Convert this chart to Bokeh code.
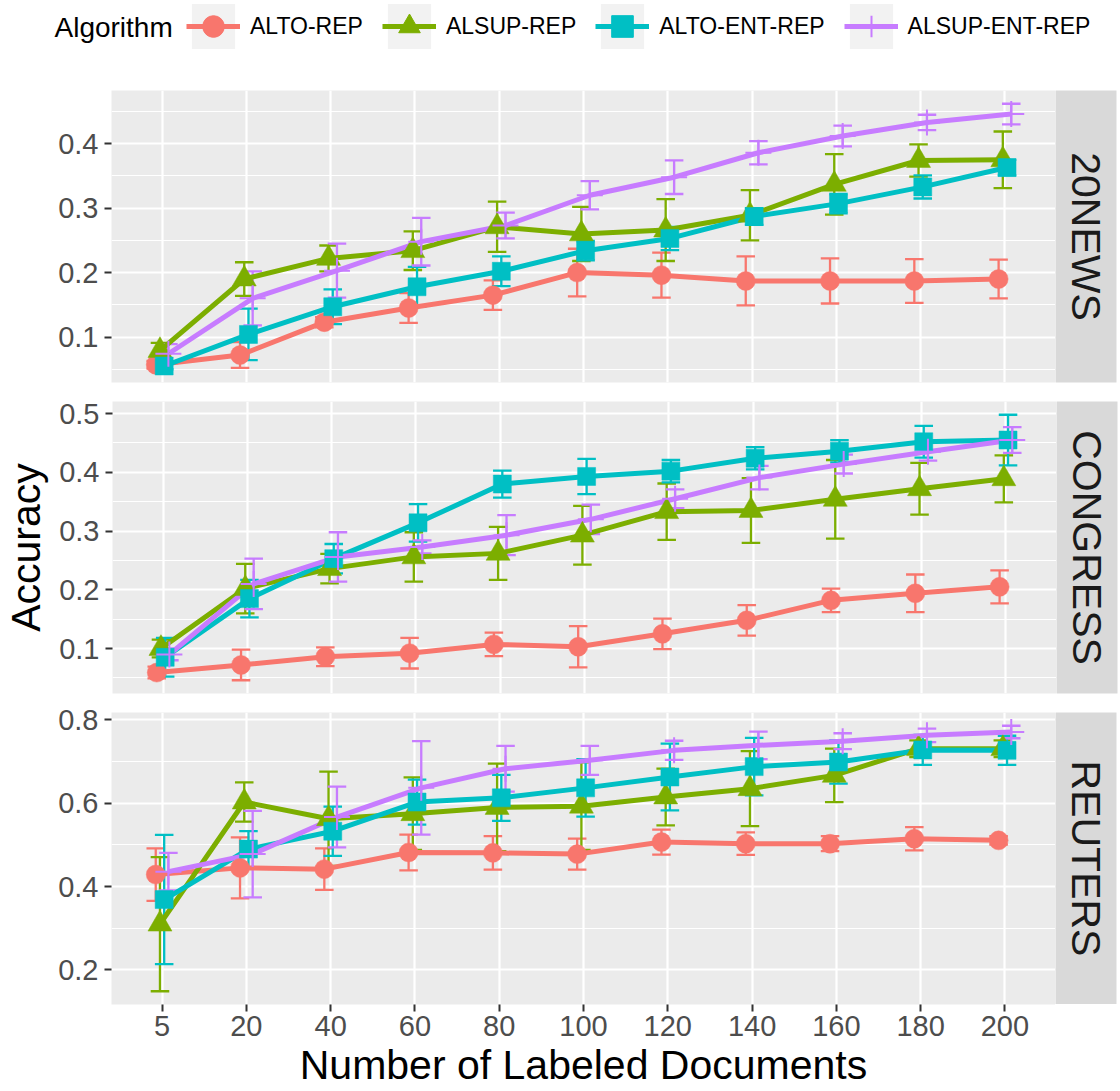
import numpy as np
from bokeh.plotting import figure
from bokeh.models import Range1d, FixedTicker, ColumnDataSource, Legend, LegendItem
from bokeh.layouts import column, row
from bokeh.embed import file_html
from bokeh.resources import INLINE
from bokeh.core.properties import value

# ---------------- data ----------------
categories = ["5", "20", "40", "60", "80", "100", "120", "140", "160", "180", "200"]
algorithms = ["ALTO-REP", "ALSUP-REP", "ALTO-ENT-REP", "ALSUP-ENT-REP"]
datasets = ["20NEWS", "CONGRESS", "REUTERS"]

# 20NEWS
news_alto_rep = [0.057, 0.072, 0.123, 0.145, 0.165, 0.200, 0.196, 0.187, 0.187, 0.187, 0.190]
news_alto_rep_err = [0.006, 0.020, 0.008, 0.023, 0.023, 0.037, 0.035, 0.038, 0.035, 0.034, 0.030]
news_alsup_rep = [0.079, 0.190, 0.222, 0.234, 0.271, 0.260, 0.266, 0.289, 0.337, 0.374, 0.375]
news_alsup_rep_err = [0.012, 0.026, 0.020, 0.030, 0.039, 0.042, 0.048, 0.039, 0.047, 0.025, 0.044]
news_alto_ent = [0.055, 0.104, 0.147, 0.178, 0.202, 0.234, 0.253, 0.287, 0.307, 0.333, 0.363]
news_alto_ent_err = [0.005, 0.040, 0.027, 0.031, 0.023, 0.015, 0.018, 0.013, 0.015, 0.018, 0.012]
news_alsup_ent = [0.074, 0.160, 0.203, 0.248, 0.273, 0.320, 0.348, 0.386, 0.412, 0.433, 0.446]
news_alsup_ent_err = [0.015, 0.042, 0.042, 0.037, 0.020, 0.022, 0.026, 0.018, 0.016, 0.012, 0.016]

# CONGRESS
cong_alto_rep = [0.059, 0.072, 0.086, 0.092, 0.107, 0.103, 0.125, 0.148, 0.182, 0.194, 0.205]
cong_alto_rep_err = [0.010, 0.026, 0.016, 0.026, 0.020, 0.035, 0.026, 0.026, 0.020, 0.032, 0.028]
cong_alsup_rep = [0.100, 0.202, 0.236, 0.256, 0.262, 0.293, 0.333, 0.335, 0.354, 0.372, 0.389]
cong_alsup_rep_err = [0.015, 0.042, 0.025, 0.042, 0.045, 0.050, 0.048, 0.055, 0.067, 0.044, 0.040]
cong_alto_ent = [0.085, 0.185, 0.253, 0.314, 0.380, 0.393, 0.402, 0.424, 0.436, 0.452, 0.455]
cong_alto_ent_err = [0.033, 0.032, 0.025, 0.032, 0.023, 0.030, 0.019, 0.019, 0.019, 0.027, 0.043]
cong_alsup_ent = [0.090, 0.210, 0.256, 0.273, 0.293, 0.320, 0.355, 0.391, 0.414, 0.435, 0.455]
cong_alsup_ent_err = [0.010, 0.043, 0.042, 0.011, 0.034, 0.025, 0.016, 0.020, 0.016, 0.015, 0.022]

# REUTERS
reut_alto_rep = [0.429, 0.445, 0.442, 0.482, 0.481, 0.478, 0.507, 0.503, 0.503, 0.515, 0.511]
reut_alto_rep_err = [0.063, 0.073, 0.050, 0.043, 0.040, 0.037, 0.030, 0.027, 0.018, 0.028, 0.010]
reut_alsup_rep = [0.310, 0.603, 0.563, 0.575, 0.590, 0.593, 0.615, 0.635, 0.667, 0.731, 0.731]
reut_alsup_rep_err = [0.161, 0.047, 0.113, 0.087, 0.105, 0.105, 0.068, 0.090, 0.064, 0.020, 0.020]
reut_alto_ent = [0.369, 0.490, 0.533, 0.603, 0.613, 0.637, 0.663, 0.688, 0.699, 0.728, 0.727]
reut_alto_ent_err = [0.155, 0.043, 0.059, 0.054, 0.055, 0.069, 0.080, 0.069, 0.052, 0.036, 0.035]
reut_alsup_ent = [0.436, 0.478, 0.567, 0.637, 0.683, 0.703, 0.727, 0.739, 0.749, 0.763, 0.771]
reut_alsup_ent_err = [0.045, 0.104, 0.073, 0.112, 0.055, 0.035, 0.023, 0.033, 0.019, 0.016, 0.015]

y_major = [[0.1, 0.2, 0.3, 0.4], [0.1, 0.2, 0.3, 0.4, 0.5], [0.2, 0.4, 0.6, 0.8]]
y_minor = [[0.05, 0.15, 0.25, 0.35, 0.45], [0.05, 0.15, 0.25, 0.35, 0.45], [0.3, 0.5, 0.7]]

panel_means = [
    [news_alto_rep, news_alsup_rep, news_alto_ent, news_alsup_ent],
    [cong_alto_rep, cong_alsup_rep, cong_alto_ent, cong_alsup_ent],
    [reut_alto_rep, reut_alsup_rep, reut_alto_ent, reut_alsup_ent],
]
panel_errs = [
    [news_alto_rep_err, news_alsup_rep_err, news_alto_ent_err, news_alsup_ent_err],
    [cong_alto_rep_err, cong_alsup_rep_err, cong_alto_ent_err, cong_alsup_ent_err],
    [reut_alto_rep_err, reut_alsup_rep_err, reut_alto_ent_err, reut_alsup_ent_err],
]

# ---------------- style ----------------
FONT = "Liberation Sans"
colors = ["#F8766D", "#7CAE00", "#00BFC4", "#C77CFF"]
markers = ["circle", "triangle", "square", "cross"]
msizes = [19, 24, 18, 26]
dodge = [-0.075, -0.025, 0.025, 0.075]
cap = 0.11
LINE_W = 5
ERR_W = 2.3
FRAME_W, FRAME_H = 944, 292
LEFT = 111
TOP_PAD = 10   # room above the frame for the top tick label
BOT_PAD = 9    # space below the frame (gap between panels = TOP_PAD + BOT_PAD)


def style_axis(ax):
    ax.axis_line_color = None
    ax.major_tick_line_color = "#333333"
    ax.major_tick_line_width = 2
    ax.major_tick_out = 7
    ax.major_tick_in = 0
    ax.minor_tick_line_color = None
    ax.major_label_text_font = FONT
    ax.major_label_text_font_size = "29px"
    ax.major_label_text_color = "#4D4D4D"
    ax.axis_label_text_font = FONT
    ax.axis_label_text_font_size = "41px"
    ax.axis_label_text_font_style = "normal"
    ax.axis_label_text_color = "black"


def make_panel(idx, show_x, top, ylabel=None):
    means = panel_means[idx]
    errs = panel_errs[idx]
    lo_all = min(float(np.min(np.array(m) - np.array(e))) for m, e in zip(means, errs))
    hi_all = max(float(np.max(np.array(m) + np.array(e))) for m, e in zip(means, errs))
    pad = 0.05 * (hi_all - lo_all)
    n = len(categories)
    p = figure(
        frame_width=FRAME_W, frame_height=FRAME_H,
        x_range=Range1d(0.4, n + 0.6), y_range=Range1d(lo_all - pad, hi_all + pad),
        x_axis_location="below" if show_x else None,
        min_border_left=LEFT, min_border_right=0, min_border_top=top,
        min_border_bottom=0 if show_x else BOT_PAD,
        background_fill_color="#EBEBEB", border_fill_color="white",
        outline_line_color=None, toolbar_location=None, output_backend="svg",
    )
    xpos = np.arange(1, n + 1)
    p.xgrid.ticker = FixedTicker(ticks=list(xpos))
    p.xgrid.grid_line_color = "white"
    p.xgrid.grid_line_width = 2.2
    p.yaxis.ticker = FixedTicker(ticks=y_major[idx], minor_ticks=y_minor[idx])
    p.ygrid.grid_line_color = "white"
    p.ygrid.grid_line_width = 2.2
    p.ygrid.minor_grid_line_color = "white"
    p.ygrid.minor_grid_line_width = 1.1
    style_axis(p.yaxis[0])
    p.yaxis.major_label_standoff = 6
    if ylabel:
        p.yaxis.axis_label = ylabel
        p.yaxis.axis_label_standoff = 7
    if show_x:
        ax = p.xaxis[0]
        style_axis(ax)
        ax.ticker = FixedTicker(ticks=list(xpos))
        ax.major_label_overrides = {int(i): c for i, c in zip(xpos, categories)}
        ax.major_label_standoff = 4
        ax.axis_label = "Number of Labeled Documents"
        ax.axis_label_standoff = 3

    sources = []
    for k in range(len(algorithms)):
        m = np.array(means[k])
        e = np.array(errs[k])
        x = xpos + dodge[k]
        sources.append(ColumnDataSource(dict(x=x, y=m, lo=m - e, hi=m + e,
                                             xl=x - cap, xr=x + cap)))
    # error bars
    for k, src in enumerate(sources):
        kw = dict(source=src, line_color=colors[k], line_width=ERR_W)
        p.segment(x0="x", y0="lo", x1="x", y1="hi", **kw)
        p.segment(x0="xl", y0="lo", x1="xr", y1="lo", **kw)
        p.segment(x0="xl", y0="hi", x1="xr", y1="hi", **kw)
    # lines
    for k, src in enumerate(sources):
        p.line(x="x", y="y", source=src, line_color=colors[k], line_width=LINE_W,
               line_join="round")
    # points
    for k, src in enumerate(sources):
        if markers[k] == "cross":
            p.scatter(x="x", y="y", source=src, marker="cross", size=msizes[k],
                      line_color=colors[k], line_width=2, fill_color=None)
        else:
            p.scatter(x="x", y="y", source=src, marker=markers[k], size=msizes[k],
                      line_color=colors[k], fill_color=colors[k], line_width=0.5)
    return p


def make_strip(name, top, bottom):
    s = figure(
        frame_width=61, frame_height=FRAME_H,
        x_range=Range1d(0, 1), y_range=Range1d(0, 1),
        x_axis_location=None, y_axis_location=None,
        min_border_left=0, min_border_right=4, min_border_top=top, min_border_bottom=bottom,
        background_fill_color="#D9D9D9", border_fill_color="white",
        outline_line_color=None, toolbar_location=None, output_backend="svg",
    )
    s.grid.grid_line_color = None
    s.text(x=[0.5], y=[0.5], text=[name], angle=-np.pi / 2,
           text_align="center", text_baseline="middle",
           text_font=value(FONT), text_font_size="41px", text_color="#1A1A1A")
    return s


# ---------------- legend strip ----------------
LEG_H = 90
lf = figure(
    width=1120, height=LEG_H, x_range=Range1d(0, 1120), y_range=Range1d(LEG_H, 0),
    x_axis_location=None, y_axis_location=None, min_border=0,
    outline_line_color=None, toolbar_location=None, output_backend="svg",
    background_fill_color="white", border_fill_color="white",
)
lf.grid.grid_line_color = None
lf.text(x=[54], y=[27], text=["Algorithm"], text_align="left", text_baseline="middle",
        text_font=value(FONT), text_font_size="28px", text_color="black")
nan = [np.nan]
items = []
for k, alg in enumerate(algorithms):
    rb = lf.quad(left=nan, right=nan, top=nan, bottom=nan, fill_color="#F2F2F2",
                 line_color=None)
    rl = lf.line(x=nan, y=nan, line_color=colors[k], line_width=LINE_W)
    if markers[k] == "cross":
        rp = lf.scatter(x=nan, y=nan, marker="cross", size=msizes[k], line_color=colors[k],
                        line_width=2, fill_color=None)
    else:
        rp = lf.scatter(x=nan, y=nan, marker=markers[k], size=msizes[k],
                        line_color=colors[k], fill_color=colors[k])
    items.append(LegendItem(label=alg, renderers=[rb, rl, rp]))
legend = Legend(
    items=items, orientation="horizontal", location=(186, 36),
    padding=0, margin=0, spacing=19, label_standoff=10,
    glyph_width=54, glyph_height=56,
    label_text_font=FONT, label_text_font_size="23px", label_text_color="black",
    border_line_color=None, background_fill_alpha=0,
)
lf.add_layout(legend)

# ---------------- panels ----------------
p1 = make_panel(0, show_x=False, top=0)
p2 = make_panel(1, show_x=False, top=TOP_PAD, ylabel="Accuracy")
p3 = make_panel(2, show_x=True, top=TOP_PAD)
s1 = make_strip(datasets[0], 0, BOT_PAD)
s2 = make_strip(datasets[1], TOP_PAD, BOT_PAD)
s3 = make_strip(datasets[2], TOP_PAD, 0)

layout = column(lf, row(p1, s1), row(p2, s2), row(p3, s3))

open("out.html", "w").write(file_html(layout, INLINE))
